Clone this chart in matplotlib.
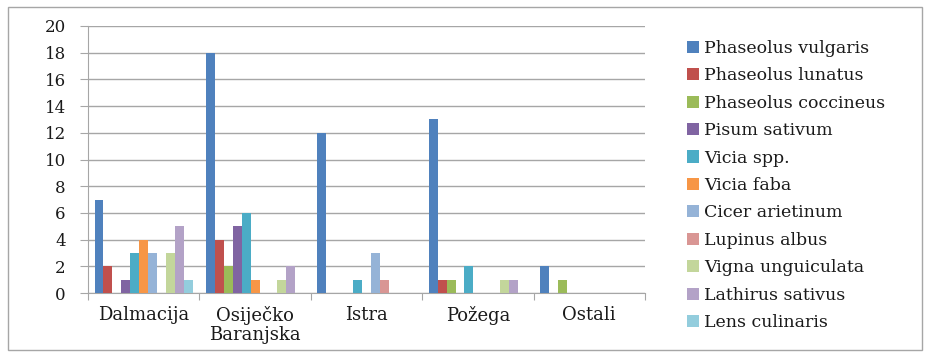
import matplotlib
matplotlib.use("Agg")
import matplotlib.pyplot as plt
import numpy as np
from matplotlib.patches import Rectangle

categories = ["Dalmacija", "Osiječko\nBaranjska", "Istra", "Požega", "Ostali"]
series_names = ["Phaseolus vulgaris", "Phaseolus lunatus", "Phaseolus coccineus",
                "Pisum sativum", "Vicia spp.", "Vicia faba", "Cicer arietinum",
                "Lupinus albus", "Vigna unguiculata", "Lathirus sativus", "Lens culinaris"]
phaseolus_vulgaris = [7, 18, 12, 13, 2]
phaseolus_lunatus = [2, 4, 0, 1, 0]
phaseolus_coccineus = [0, 2, 0, 1, 1]
pisum_sativum = [1, 5, 0, 0, 0]
vicia_spp = [3, 6, 1, 2, 0]
vicia_faba = [4, 1, 0, 0, 0]
cicer_arietinum = [3, 0, 3, 0, 0]
lupinus_albus = [0, 0, 1, 0, 0]
vigna_unguiculata = [3, 1, 0, 1, 0]
lathirus_sativus = [5, 2, 0, 1, 0]
lens_culinaris = [1, 0, 0, 0, 0]
series_values = [phaseolus_vulgaris, phaseolus_lunatus, phaseolus_coccineus, pisum_sativum,
                 vicia_spp, vicia_faba, cicer_arietinum, lupinus_albus, vigna_unguiculata,
                 lathirus_sativus, lens_culinaris]
colors = ["#4F81BD", "#C0504D", "#9BBB59", "#8064A2", "#4BACC6", "#F79646",
          "#95B3D7", "#D99694", "#C3D69B", "#B3A2C7", "#93CDDD"]
yticks = list(range(0, 21, 2))

plt.rcParams['font.family'] = ['DejaVu Serif']

fig = plt.figure(figsize=(9.31, 3.57), dpi=100)
ax = fig.add_axes([88/931, 1-293/357, (645-88)/931, (293-26)/357])

n = len(series_names)
bw = 0.883 / n
x = np.arange(len(categories))
handles = []
for i, (vals, c) in enumerate(zip(series_values, colors)):
    offs = -0.883/2 + bw*(i+0.5)
    h = ax.bar(x + offs, vals, width=bw, color=c, linewidth=0, zorder=3, label=series_names[i])
    handles.append(h)

ax.set_xlim(-0.5, len(categories)-0.5)
ax.set_ylim(0, 20)
ax.set_yticks(yticks)
ax.set_yticklabels([str(t) for t in yticks], fontsize=12, color="#1A1A1A")
ax.yaxis.grid(True, color="#A6A6A6", linewidth=1, zorder=0)
ax.set_xticks(np.arange(len(categories)+1) - 0.5, minor=False)
ax.set_xticklabels([])
ax.tick_params(axis='x', direction='out', length=5, color="#A6A6A6")
ax.tick_params(axis='y', direction='out', length=6, color="#A6A6A6", pad=10)
for s in ["top", "right"]:
    ax.spines[s].set_visible(False)
for s in ["left", "bottom"]:
    ax.spines[s].set_color("#A6A6A6")

for xi, lab in zip(x, categories):
    ax.text(xi, -1.0, lab, ha='center', va='top', fontsize=13, linespacing=1.05,
            color="#1A1A1A", transform=ax.transData)

leg = fig.legend(handles=handles, labels=series_names, loc='upper left',
                 bbox_to_anchor=(680/931, 1-33/357), frameon=False, fontsize=12.5,
                 handlelength=0.7, handleheight=0.7, handletextpad=0.3,
                 labelspacing=0.6, borderaxespad=0)
for t in leg.get_texts():
    t.set_color("#1A1A1A")

fig.patches.append(Rectangle((8/931, 7/357), 914/931, 343/357, transform=fig.transFigure,
                             fill=False, edgecolor="#A6A6A6", linewidth=1))

fig.savefig("out.png", dpi=100)
